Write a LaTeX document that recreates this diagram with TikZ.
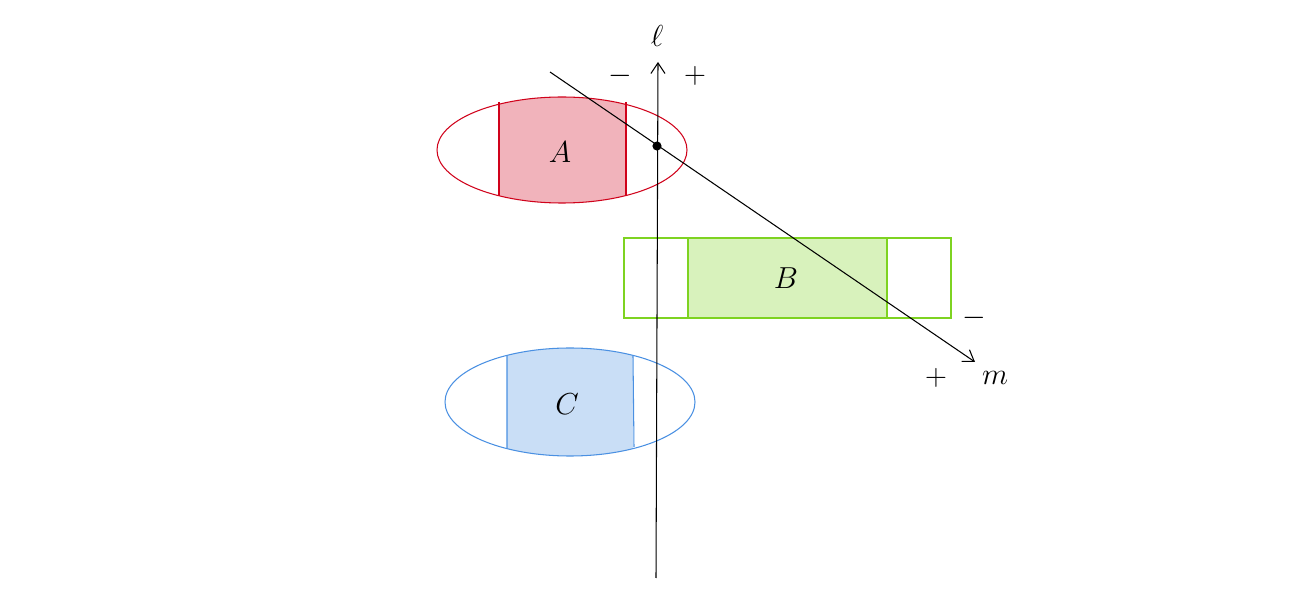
\documentclass[tikz,border=0pt]{standalone}
\usetikzlibrary{arrows.meta}
\definecolor{redA}{RGB}{208,2,27}
\definecolor{greenB}{RGB}{126,211,33}
\definecolor{blueC}{RGB}{74,144,226}
\tikzset{axis/.style={semithick, -{Straight Barb[length=6pt,width=8pt]}},
  lbl/.style={font=\LARGE}}
\begin{document}
\begin{tikzpicture}[x=0.02cm,y=-0.02cm,semithick]
\useasboundingbox (0,0) rectangle (1316,604);
% Region A
\begin{scope}
\clip (562,150) ellipse (125 and 53);
\fill[redA!30] (499,90) rectangle (626,210);
\end{scope}
\draw[redA] (562,150) ellipse (125 and 53);
\draw[redA] (499,102) -- (499,196) (626,102) -- (626,196);
\node[lbl] (A) at (560,152) {$A$};

% Region B
\draw[greenB, fill=greenB!30] (688,238) rectangle (887,318);
\draw[greenB] (624,238) rectangle (951,318);
\node[lbl] (B) at (786,278) {$B$};

% Region C
\begin{scope}
\clip (570,402) ellipse (125 and 54);
\fill[blueC!30] (507,340) rectangle (633,460);
\end{scope}
\draw[blueC] (570,402) ellipse (125 and 54);
\draw[blueC] (507,356) -- (507,448) (633,356) -- (634,447);
\node[lbl] (C) at (567,404) {$C$};

% Axes
\coordinate (lbot) at (656,578);
\coordinate (ltop) at (658,62);
\coordinate (mstart) at (550,72);
\coordinate (mend) at (975,362);
\draw[axis] (lbot) -- (ltop);
\draw[axis] (mstart) -- (mend);
\fill (657,146) circle (2.6pt);
\node[lbl] (ell) at (657,36) {$\ell$};
\node[lbl] (m) at (995,378) {$m$};
\node[lbl] (lminus) at (620,76) {$-$};
\node[lbl] (lplus) at (695,76) {$+$};
\node[lbl] (mplus) at (936,378) {$+$};
\node[lbl] (mminus) at (974,318) {$-$};
\end{tikzpicture}
\end{document}
